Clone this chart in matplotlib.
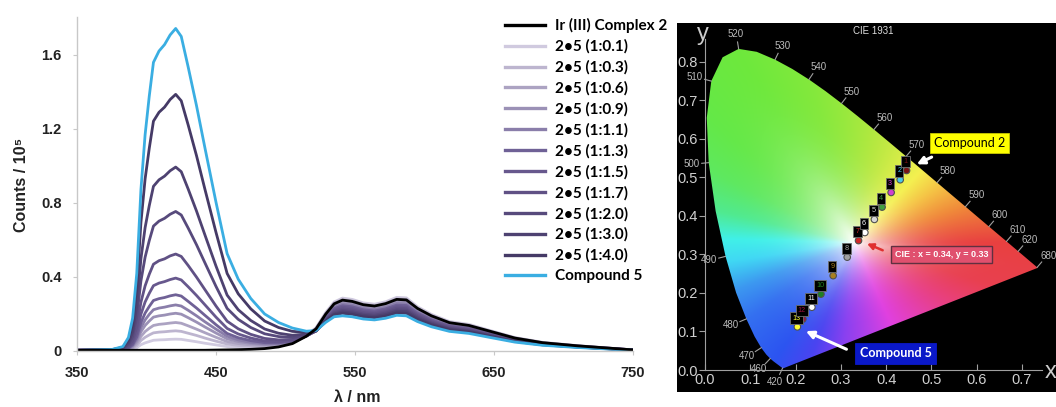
import numpy as np
import matplotlib
matplotlib.use("Agg")
import matplotlib.pyplot as plt
from matplotlib.lines import Line2D
from matplotlib.patches import Polygon
from matplotlib.colors import to_rgb

plt.rcParams['font.family'] = ['Liberation Sans', 'DejaVu Sans']

# ---------------- emission spectra (counts / 1e5) ----------------
wl = [350, 375, 383, 387, 390, 393, 396, 399, 402, 405, 409, 413, 417, 421, 425,
      430, 436, 442, 450, 458, 466, 475, 485, 495, 505, 515, 522, 529, 535, 541,
      548, 556, 564, 572, 580, 587, 595, 605, 618, 632, 648, 665, 685, 710, 750]

ir_complex2 = [0.004, 0.004, 0.004, 0.004, 0.004, 0.004, 0.004, 0.004, 0.004, 0.004, 0.004, 0.004, 0.004, 0.004, 0.004,
               0.004, 0.004, 0.004, 0.005, 0.006, 0.007, 0.009, 0.013, 0.022, 0.04, 0.08, 0.12, 0.20, 0.255, 0.275,
               0.268, 0.25, 0.243, 0.256, 0.279, 0.276, 0.23, 0.19, 0.153, 0.138, 0.105, 0.07, 0.045, 0.028, 0.006]
mix_0_1 = [0.004, 0.004, 0.005, 0.006, 0.01, 0.018, 0.034, 0.044, 0.051, 0.058, 0.06, 0.061, 0.063, 0.064, 0.063,
           0.057, 0.05, 0.042, 0.033, 0.024, 0.02, 0.019, 0.021, 0.028, 0.045, 0.085, 0.126, 0.209, 0.265, 0.286,
           0.279, 0.26, 0.253, 0.266, 0.29, 0.287, 0.239, 0.198, 0.159, 0.144, 0.109, 0.073, 0.047, 0.029, 0.006]
mix_0_3 = [0.004, 0.004, 0.005, 0.008, 0.015, 0.029, 0.057, 0.074, 0.087, 0.098, 0.102, 0.104, 0.107, 0.109, 0.106,
           0.096, 0.084, 0.07, 0.053, 0.038, 0.03, 0.026, 0.025, 0.03, 0.046, 0.084, 0.123, 0.203, 0.259, 0.278,
           0.271, 0.253, 0.245, 0.259, 0.282, 0.279, 0.232, 0.192, 0.155, 0.139, 0.106, 0.071, 0.045, 0.028, 0.006]
mix_0_6 = [0.004, 0.004, 0.006, 0.01, 0.019, 0.04, 0.079, 0.105, 0.123, 0.138, 0.144, 0.147, 0.151, 0.154, 0.15,
           0.136, 0.118, 0.099, 0.074, 0.051, 0.04, 0.033, 0.03, 0.034, 0.047, 0.083, 0.12, 0.198, 0.251, 0.27,
           0.263, 0.245, 0.238, 0.251, 0.273, 0.27, 0.225, 0.186, 0.15, 0.135, 0.103, 0.069, 0.044, 0.027, 0.006]
mix_0_9 = [0.004, 0.005, 0.006, 0.012, 0.024, 0.052, 0.104, 0.138, 0.162, 0.183, 0.19, 0.194, 0.20, 0.204, 0.199,
           0.18, 0.156, 0.13, 0.097, 0.066, 0.051, 0.041, 0.034, 0.037, 0.049, 0.082, 0.117, 0.192, 0.243, 0.261,
           0.255, 0.238, 0.231, 0.243, 0.265, 0.262, 0.219, 0.181, 0.145, 0.131, 0.10, 0.067, 0.043, 0.027, 0.006]
mix_1_1 = [0.004, 0.005, 0.007, 0.014, 0.029, 0.063, 0.127, 0.168, 0.198, 0.223, 0.232, 0.237, 0.244, 0.249, 0.243,
           0.22, 0.19, 0.158, 0.118, 0.08, 0.06, 0.047, 0.039, 0.04, 0.05, 0.081, 0.114, 0.186, 0.236, 0.253,
           0.247, 0.23, 0.224, 0.236, 0.257, 0.254, 0.212, 0.175, 0.141, 0.127, 0.097, 0.064, 0.041, 0.026, 0.006]
mix_1_3 = [0.004, 0.005, 0.008, 0.016, 0.034, 0.076, 0.154, 0.205, 0.241, 0.273, 0.283, 0.289, 0.298, 0.304, 0.297,
           0.268, 0.232, 0.193, 0.142, 0.095, 0.072, 0.056, 0.045, 0.044, 0.053, 0.08, 0.112, 0.181, 0.229, 0.245,
           0.239, 0.223, 0.216, 0.228, 0.248, 0.246, 0.205, 0.169, 0.136, 0.123, 0.093, 0.062, 0.04, 0.025, 0.005]
mix_1_5 = [0.004, 0.005, 0.009, 0.02, 0.043, 0.098, 0.199, 0.265, 0.312, 0.353, 0.367, 0.375, 0.386, 0.394, 0.384,
           0.347, 0.30, 0.25, 0.183, 0.122, 0.092, 0.07, 0.054, 0.05, 0.055, 0.081, 0.109, 0.176, 0.221, 0.237,
           0.23, 0.215, 0.209, 0.22, 0.24, 0.237, 0.198, 0.163, 0.132, 0.119, 0.09, 0.06, 0.039, 0.024, 0.005]
mix_1_7 = [0.004, 0.006, 0.01, 0.025, 0.056, 0.129, 0.264, 0.352, 0.415, 0.469, 0.488, 0.498, 0.514, 0.524, 0.511,
           0.462, 0.399, 0.332, 0.243, 0.161, 0.12, 0.09, 0.068, 0.06, 0.062, 0.082, 0.108, 0.171, 0.215, 0.228,
           0.222, 0.208, 0.202, 0.212, 0.232, 0.229, 0.191, 0.158, 0.127, 0.115, 0.087, 0.058, 0.037, 0.023, 0.005]
mix_2_0 = [0.004, 0.006, 0.013, 0.034, 0.079, 0.184, 0.379, 0.507, 0.597, 0.675, 0.702, 0.717, 0.739, 0.754, 0.735,
           0.664, 0.574, 0.477, 0.349, 0.23, 0.171, 0.127, 0.093, 0.078, 0.073, 0.087, 0.108, 0.168, 0.208, 0.22,
           0.214, 0.20, 0.194, 0.205, 0.223, 0.221, 0.184, 0.152, 0.122, 0.11, 0.084, 0.056, 0.036, 0.022, 0.005]
mix_3_0 = [0.004, 0.007, 0.016, 0.044, 0.103, 0.242, 0.499, 0.667, 0.786, 0.89, 0.925, 0.945, 0.974, 0.994, 0.969,
           0.875, 0.756, 0.628, 0.459, 0.302, 0.223, 0.165, 0.119, 0.096, 0.085, 0.092, 0.108, 0.164, 0.201, 0.212,
           0.206, 0.193, 0.187, 0.197, 0.215, 0.213, 0.177, 0.146, 0.118, 0.106, 0.081, 0.054, 0.035, 0.022, 0.005]
mix_4_0 = [0.003, 0.007, 0.02, 0.058, 0.141, 0.335, 0.695, 0.93, 1.096, 1.242, 1.29, 1.318, 1.359, 1.387, 1.352,
           1.221, 1.055, 0.875, 0.641, 0.419, 0.309, 0.228, 0.162, 0.127, 0.106, 0.101, 0.111, 0.162, 0.196, 0.204,
           0.198, 0.185, 0.18, 0.189, 0.206, 0.204, 0.17, 0.141, 0.113, 0.102, 0.078, 0.052, 0.033, 0.021, 0.004]
compound5 = [0.003, 0.008, 0.024, 0.073, 0.177, 0.42, 0.873, 1.169, 1.378, 1.56, 1.621, 1.656, 1.708, 1.743, 1.70,
             1.534, 1.325, 1.099, 0.804, 0.526, 0.388, 0.284, 0.20, 0.154, 0.124, 0.107, 0.111, 0.155, 0.185, 0.19,
             0.185, 0.173, 0.168, 0.177, 0.193, 0.19, 0.159, 0.131, 0.106, 0.095, 0.072, 0.048, 0.031, 0.019, 0.004]

mix_series = [mix_0_1, mix_0_3, mix_0_6, mix_0_9, mix_1_1, mix_1_3,
              mix_1_5, mix_1_7, mix_2_0, mix_3_0, mix_4_0]
mix_labels = ['2\u20225 (1:0.1)', '2\u20225 (1:0.3)', '2\u20225 (1:0.6)', '2\u20225 (1:0.9)',
              '2\u20225 (1:1.1)', '2\u20225 (1:1.3)', '2\u20225 (1:1.5)', '2\u20225 (1:1.7)',
              '2\u20225 (1:2.0)', '2\u20225 (1:3.0)', '2\u20225 (1:4.0)']
mix_colors = ['#d0cadf', '#bdb5cf', '#aca3c2', '#9b91b6', '#8a7eaa', '#6f6196',
              '#67588d', '#605185', '#574a7c', '#4e4271', '#453a66']

# ---------------- CIE 1931 spectral locus ----------------
locus_nm = list(range(380, 705, 5))
locus_x = [0.1741, 0.1740, 0.1738, 0.1736, 0.1733, 0.1730, 0.1726, 0.1721, 0.1714, 0.1703,
           0.1689, 0.1669, 0.1644, 0.1611, 0.1566, 0.1510, 0.1440, 0.1355, 0.1241, 0.1096,
           0.0913, 0.0687, 0.0454, 0.0235, 0.0082, 0.0039, 0.0139, 0.0389, 0.0743, 0.1142,
           0.1547, 0.1929, 0.2296, 0.2658, 0.3016, 0.3373, 0.3731, 0.4087, 0.4441, 0.4788,
           0.5125, 0.5448, 0.5752, 0.6029, 0.6270, 0.6482, 0.6658, 0.6801, 0.6915, 0.7006,
           0.7079, 0.7140, 0.7190, 0.7230, 0.7260, 0.7283, 0.7300, 0.7311, 0.7320, 0.7327,
           0.7334, 0.7340, 0.7344, 0.7346, 0.7347]
locus_y = [0.0050, 0.0050, 0.0049, 0.0049, 0.0048, 0.0048, 0.0048, 0.0048, 0.0051, 0.0058,
           0.0069, 0.0086, 0.0109, 0.0138, 0.0177, 0.0227, 0.0297, 0.0399, 0.0578, 0.0868,
           0.1327, 0.2007, 0.2950, 0.4127, 0.5384, 0.6548, 0.7502, 0.8120, 0.8338, 0.8262,
           0.8059, 0.7816, 0.7543, 0.7243, 0.6923, 0.6589, 0.6245, 0.5896, 0.5547, 0.5202,
           0.4866, 0.4544, 0.4242, 0.3965, 0.3725, 0.3514, 0.3340, 0.3197, 0.3083, 0.2993,
           0.2920, 0.2859, 0.2809, 0.2770, 0.2740, 0.2717, 0.2700, 0.2689, 0.2680, 0.2673,
           0.2666, 0.2660, 0.2656, 0.2654, 0.2653]
locus_marks = [420, 460, 470, 480, 490, 500, 510, 520, 530, 540, 550,
               560, 570, 580, 590, 600, 610, 620, 680]

# hue ring used to paint the diagram (angle around the white point, degrees)
hue_angles = [0, 21, 38, 52, 81, 103, 117, 135, 150, 165, 178, 190, 205, 220, 240, 252, 265, 291, 323, 340, 360]
hue_colors = ['#e84040', '#f08a3a', '#f5c445', '#f4f050', '#b4e840', '#84e83c', '#6ee83c', '#64e848',
              '#5ee860', '#50ea90', '#40f0e8', '#40d8f4', '#3c98f0', '#3470f0', '#2c54f0', '#4a44f0',
              '#8a40f0', '#e040e0', '#e84080', '#e84050', '#e84040']

# measured chromaticity points (1 = complex 2 ... 13 = compound 5)
cie_x = [0.445, 0.431, 0.411, 0.391, 0.374, 0.353, 0.339, 0.314, 0.283, 0.256, 0.236, 0.216, 0.204]
cie_y = [0.518, 0.494, 0.461, 0.423, 0.391, 0.357, 0.336, 0.293, 0.245, 0.197, 0.163, 0.132, 0.112]
cie_ids = ['1', '2', '3', '4', '5', '6', '7', '8', '9', '10', '11', '12', '13']
cie_colors = ['#7a1414', '#48c8e8', '#d040d0', '#40a040', '#d8d8d8', '#ffffff', '#d02828',
              '#a0a0a0', '#a88020', '#208020', '#ffffff', '#a01040', '#ffff30']

fig = plt.figure(figsize=(10.56, 4.07), dpi=100)

# ---------------- left panel ----------------
ax = fig.add_axes([77/1056, 1-351/407, 556/1056, 334/407])
for s, c in zip(mix_series, mix_colors):
    ax.plot(wl, s, color=c, lw=2.0, solid_joinstyle='round')
ax.plot(wl, compound5, color='#3aaee2', lw=2.0)
ax.plot(wl, ir_complex2, color='black', lw=2.0)

ax.set_xlim(350, 750)
ax.set_ylim(0, 1.805)
ax.set_xticks([350, 450, 550, 650, 750])
ax.set_yticks([0, 0.4, 0.8, 1.2, 1.6])
ax.set_yticklabels(['0', '0.4', '0.8', '1.2', '1.6'])
for side in ['top', 'right']:
    ax.spines[side].set_visible(False)
for side in ['left', 'bottom']:
    ax.spines[side].set_color('#c8c8c8')
    ax.spines[side].set_linewidth(1.0)
ax.tick_params(axis='both', colors='#c8c8c8', labelcolor='#222222', length=3, labelsize=10.5)
ax.tick_params(axis='x', pad=8)
ax.tick_params(axis='y', pad=8)
for lab in ax.get_xticklabels() + ax.get_yticklabels():
    lab.set_fontweight('bold')

fig.text(22/1056, 1-185/407, 'Counts / 10\u2075', rotation=90, ha='center', va='center',
         fontsize=11.5, fontweight='bold', color='#222222')
fig.text(357/1056, 1-397/407, '\u03bb / nm', ha='center', va='center',
         fontsize=11.5, fontweight='bold', color='#222222')

handles = [Line2D([], [], color='black', lw=2.4)]
handles += [Line2D([], [], color=c, lw=2.4) for c in mix_colors]
handles += [Line2D([], [], color='#3aaee2', lw=2.4)]
labels = ['Ir (III) Complex 2'] + mix_labels + ['Compound 5']
ax.legend(handles, labels, loc='upper left', bbox_to_anchor=(505/1056, 1-18/407),
          bbox_transform=fig.transFigure, frameon=False,
          prop=dict(family='Lato', weight='bold', size=11),
          handlelength=2.6, handletextpad=0.65, labelspacing=0.42,
          borderaxespad=0, borderpad=0)

# ---------------- right panel: CIE 1931 ----------------
ax2 = fig.add_axes([677/1056, 1-392/407, 379/1056, 369/407])
ax2.set_facecolor('black')
ax2.set_xlim(-0.0618, 0.775)
ax2.set_ylim(-0.0571, 0.901)

# colour fill: hue from the angle around the white point, saturation from the
# relative distance to the locus boundary
wx, wy = 0.33, 0.33
bx = np.append(locus_x, locus_x[0])
by = np.append(locus_y, locus_y[0])
dense_x = np.concatenate([np.linspace(bx[i], bx[i + 1], 30) for i in range(len(bx) - 1)])
dense_y = np.concatenate([np.linspace(by[i], by[i + 1], 30) for i in range(len(by) - 1)])
b_ang = np.degrees(np.arctan2(dense_y - wy, dense_x - wx)) % 360
b_rad = np.hypot(dense_x - wx, dense_y - wy)
order = np.argsort(b_ang)
b_ang, b_rad = b_ang[order], b_rad[order]

gx, gy = np.meshgrid(np.linspace(0, 0.75, 600), np.linspace(0, 0.85, 600))
ang = np.degrees(np.arctan2(gy - wy, gx - wx)) % 360
sat = np.clip(np.hypot(gx - wx, gy - wy) / np.interp(ang, b_ang, b_rad, period=360), 0, 1)
sat = 1 - (1 - sat) ** 3
hue_rgb = np.array([to_rgb(c) for c in hue_colors])
rgb = np.dstack([np.interp(ang, hue_angles, hue_rgb[:, k]) for k in range(3)])
rgb = 1 - (1 - rgb) * sat[..., None]
img = ax2.imshow(rgb, extent=[0, 0.75, 0, 0.85], origin='lower', aspect='auto',
                 interpolation='bilinear', zorder=1)
locus = Polygon(np.column_stack([locus_x, locus_y]), closed=True, transform=ax2.transData)
img.set_clip_path(locus)

for side in ['top', 'right']:
    ax2.spines[side].set_visible(False)
ax2.spines['left'].set_position(('data', 0))
ax2.spines['bottom'].set_position(('data', 0))
ax2.spines['left'].set_bounds(0, 0.86)
ax2.spines['bottom'].set_bounds(0, 0.745)
for side in ['left', 'bottom']:
    ax2.spines[side].set_color('#a0a0a0')
    ax2.spines[side].set_zorder(3)
ax2.set_xticks(np.arange(0, 0.71, 0.1))
ax2.set_yticks(np.arange(0, 0.81, 0.1))
ax2.set_xticklabels(['%.1f' % v for v in np.arange(0, 0.71, 0.1)])
ax2.set_yticklabels(['%.1f' % v for v in np.arange(0, 0.81, 0.1)])
ax2.tick_params(colors='#a0a0a0', labelcolor='#d0d0d0', labelsize=10.5, length=4)
ax2.tick_params(axis='x', direction='in', pad=2)
ax2.tick_params(axis='y', direction='out', pad=1)

# wavelength ticks along the locus
sx, sy = 452.9, 385.0
lx, ly = np.array(locus_x), np.array(locus_y)
for nm in locus_marks:
    i = locus_nm.index(nm)
    i0, i1 = max(i - 1, 0), min(i + 1, len(locus_nm) - 1)
    t = np.array([(lx[i1] - lx[i0]) * sx, (ly[i1] - ly[i0]) * sy])
    n = np.array([t[1], -t[0]]) / np.hypot(*t)
    if n @ np.array([(lx[i] - 0.33) * sx, (ly[i] - 0.33) * sy]) < 0:
        n = -n
    ax2.plot([lx[i], lx[i] + n[0] * 7 / sx], [ly[i], ly[i] + n[1] * 7 / sy],
             color='#a0a0a0', lw=0.8, zorder=2)
    ax2.text(lx[i] + n[0] * 17 / sx, ly[i] + n[1] * 15 / sy, str(nm), fontsize=7,
             color='#bbbbbb', ha='center', va='center', zorder=2)

ax2.scatter(cie_x, cie_y, s=22, c=cie_colors, edgecolors='#505050', linewidths=0.8, zorder=5)
for k in range(len(cie_x) - 1, -1, -1):
    ax2.text(cie_x[k] - 0.002, cie_y[k] + 0.023, cie_ids[k], fontsize=5.2, color=cie_colors[k],
             ha='center', va='center', zorder=6 + (len(cie_x) - k) * 0.01,
             bbox=dict(boxstyle='square,pad=0.3', fc='black', ec='#707070', lw=0.6))

ax2.text(0.371, 0.881, 'CIE 1931', fontsize=7, color='#dddddd', ha='center', va='center')
ax2.text(-0.004, 0.872, 'y', fontsize=17, color='#cccccc', ha='center', va='center')
ax2.text(0.764, -0.006, 'x', fontsize=17, color='#cccccc', ha='center', va='center')

ax2.annotate('', xy=(0.462, 0.531), xytext=(0.506, 0.556), zorder=8,
             arrowprops=dict(arrowstyle='-|>', color='white', lw=2.2, mutation_scale=11))
ax2.annotate('', xy=(0.352, 0.331), xytext=(0.398, 0.308), zorder=8,
             arrowprops=dict(arrowstyle='-|>', color='#e03030', lw=1.8, mutation_scale=9))
ax2.annotate('', xy=(0.217, 0.104), xytext=(0.318, 0.051), zorder=8,
             arrowprops=dict(arrowstyle='-|>', color='white', lw=2.2, mutation_scale=11))

ax2.text(0.584, 0.590, 'Compound 2', fontsize=9, family='Lato', color='black',
         ha='center', va='center', zorder=9,
         bbox=dict(boxstyle='square,pad=0.3', fc='#ffff00', ec='#c8c800', lw=0.6))
ax2.text(0.522, 0.299, 'CIE : x = 0.34, y = 0.33', fontsize=6.5, fontweight='bold',
         color='white', ha='center', va='center', zorder=9,
         bbox=dict(boxstyle='square,pad=0.45', fc='#e0506e', ec='#603040', lw=1.0))
ax2.text(0.421, 0.043, 'Compound 5', fontsize=9, family='Lato', fontweight='bold',
         color='white', ha='center', va='center', zorder=9,
         bbox=dict(boxstyle='square,pad=0.35', fc='#0a18c8', ec='#0a18c8', lw=0.6))

fig.savefig('out.png', dpi=100)
